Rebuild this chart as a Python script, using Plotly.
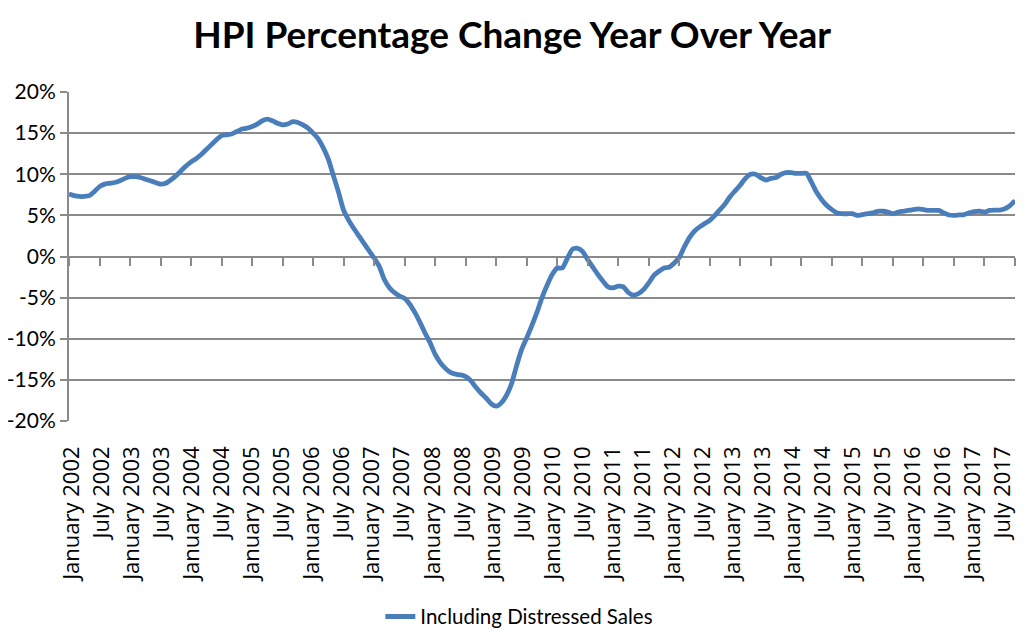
import plotly.graph_objects as go

hpi_change = [
    7.6, 7.4, 7.3, 7.3, 7.4, 7.9, 8.5, 8.8, 8.9, 9.0, 9.2, 9.5,
    9.7, 9.7, 9.6, 9.4, 9.2, 9.0, 8.8, 8.9, 9.3, 9.8, 10.4, 11.0,
    11.5, 11.9, 12.4, 13.0, 13.6, 14.2, 14.7, 14.8, 14.9, 15.2, 15.5, 15.6,
    15.8, 16.1, 16.5, 16.7, 16.5, 16.2, 16.0, 16.1, 16.4, 16.3, 16.0, 15.6,
    15.0, 14.3, 13.2, 11.8, 9.8, 7.8, 5.6, 4.4, 3.4, 2.5, 1.6, 0.7,
    -0.2, -1.2, -2.8, -3.8, -4.4, -4.8, -5.1, -5.8, -6.8, -8.0, -9.3, -10.5,
    -11.9, -12.9, -13.6, -14.1, -14.3, -14.4, -14.6, -15.1, -15.9, -16.6, -17.2, -17.9,
    -18.2, -17.8, -16.9, -15.5, -13.3, -11.3, -9.9, -8.4, -6.8, -5.0, -3.5, -2.2,
    -1.4, -1.4, -0.2, 0.9, 1.0, 0.6, -0.4, -1.3, -2.2, -3.0, -3.7, -3.8,
    -3.6, -3.7, -4.4, -4.7, -4.5, -4.0, -3.2, -2.3, -1.8, -1.4, -1.3, -0.8,
    -0.1, 1.2, 2.3, 3.1, 3.6, 4.0, 4.4, 5.0, 5.7, 6.4, 7.3, 8.0,
    8.7, 9.5, 10.0, 10.0, 9.6, 9.3, 9.5, 9.6, 10.0, 10.2, 10.2, 10.1,
    10.1, 10.1, 9.0, 7.8, 6.9, 6.2, 5.7, 5.3, 5.2, 5.2, 5.2, 5.0,
    5.1, 5.2, 5.3, 5.5, 5.5, 5.4, 5.2, 5.4, 5.5, 5.6, 5.7, 5.8,
    5.7, 5.6, 5.6, 5.6, 5.3, 5.05, 5.0, 5.05, 5.1, 5.3, 5.45, 5.5,
    5.4, 5.6, 5.65, 5.65, 5.8, 6.2, 6.8,
]

month_names = ["January", "February", "March", "April", "May", "June", "July",
               "August", "September", "October", "November", "December"]
start_year = 2002
months = [f"{month_names[i % 12]} {start_year + i // 12}" for i in range(len(hpi_change))]

tick_idx = list(range(0, len(hpi_change), 6))
tick_labels = [months[i] for i in tick_idx]

y_ticks = [-20, -15, -10, -5, 0, 5, 10, 15, 20]
y_tick_labels = [f"{v}%" for v in y_ticks]

series_name = "Including Distressed Sales"
title_text = "HPI Percentage Change Year Over Year"

FONT = "Lato"
LABEL_FONT = "Open Sans"
GRID = "#8a8a8a"
LINE = "#4a7ebb"

x_idx = list(range(len(hpi_change)))
n_last = len(hpi_change) - 1

fig = go.Figure()
fig.add_trace(go.Scatter(
    x=x_idx, y=hpi_change, mode="lines", name=series_name,
    line=dict(color=LINE, width=4.8, shape="spline", smoothing=0.6),
    hovertext=months, hoverinfo="text+y",
))
# invisible traces holding the label axis and the tick-mark axis at 0%
for ax in ("x2", "x3"):
    fig.add_trace(go.Scatter(
        x=x_idx, y=hpi_change, xaxis=ax, mode="lines",
        line=dict(width=0), opacity=0, showlegend=False, hoverinfo="skip",
    ))

fig.update_layout(
    width=1033, height=638,
    paper_bgcolor="white", plot_bgcolor="white",
    margin=dict(l=61, r=26, t=84, b=225),
    title=dict(text=f"<b>{title_text}</b>", x=0.488, xanchor="center",
               y=0.958, yanchor="middle",
               font=dict(family=FONT, size=37, color="black")),
    font=dict(family=FONT, color="black"),
    showlegend=True,
    legend=dict(orientation="h", xref="container", x=0.495, xanchor="center",
                yref="container", y=0.046, yanchor="middle",
                font=dict(family=FONT, size=20.5, color="black")),
    xaxis=dict(
        range=[0, n_last], showticklabels=False, showgrid=False, showline=False,
        zeroline=False, ticks="", automargin=False,
    ),
    # category labels (Excel spreads them slightly narrower than the plot)
    xaxis2=dict(
        overlaying="x", anchor="y", side="bottom",
        range=[-0.6, n_last + 2.4], tickmode="array", tickvals=tick_idx,
        ticktext=tick_labels, tickangle=-90, showgrid=False, showline=False,
        zeroline=False, ticks="", automargin=False, ticklabelstandoff=20,
        tickfont=dict(family=LABEL_FONT, size=22, color="black"),
    ),
    xaxis3=dict(
        overlaying="x", matches="x", anchor="free", position=0.5, side="bottom",
        tickmode="array", tickvals=tick_idx, showticklabels=False,
        ticks="outside", ticklen=8, tickwidth=2, tickcolor=GRID,
        showgrid=False, showline=False, zeroline=False,
    ),
    yaxis=dict(
        range=[-20, 20], tickmode="array", tickvals=y_ticks, ticktext=y_tick_labels,
        showgrid=True, gridcolor=GRID, gridwidth=2,
        zeroline=True, zerolinecolor=GRID, zerolinewidth=2,
        showline=True, linecolor=GRID, linewidth=2, automargin=False,
        ticks="outside", ticklen=7, tickwidth=2, tickcolor=GRID,
        tickfont=dict(family=FONT, size=21, color="black"),
    ),
)

fig.write_html("out.html")
